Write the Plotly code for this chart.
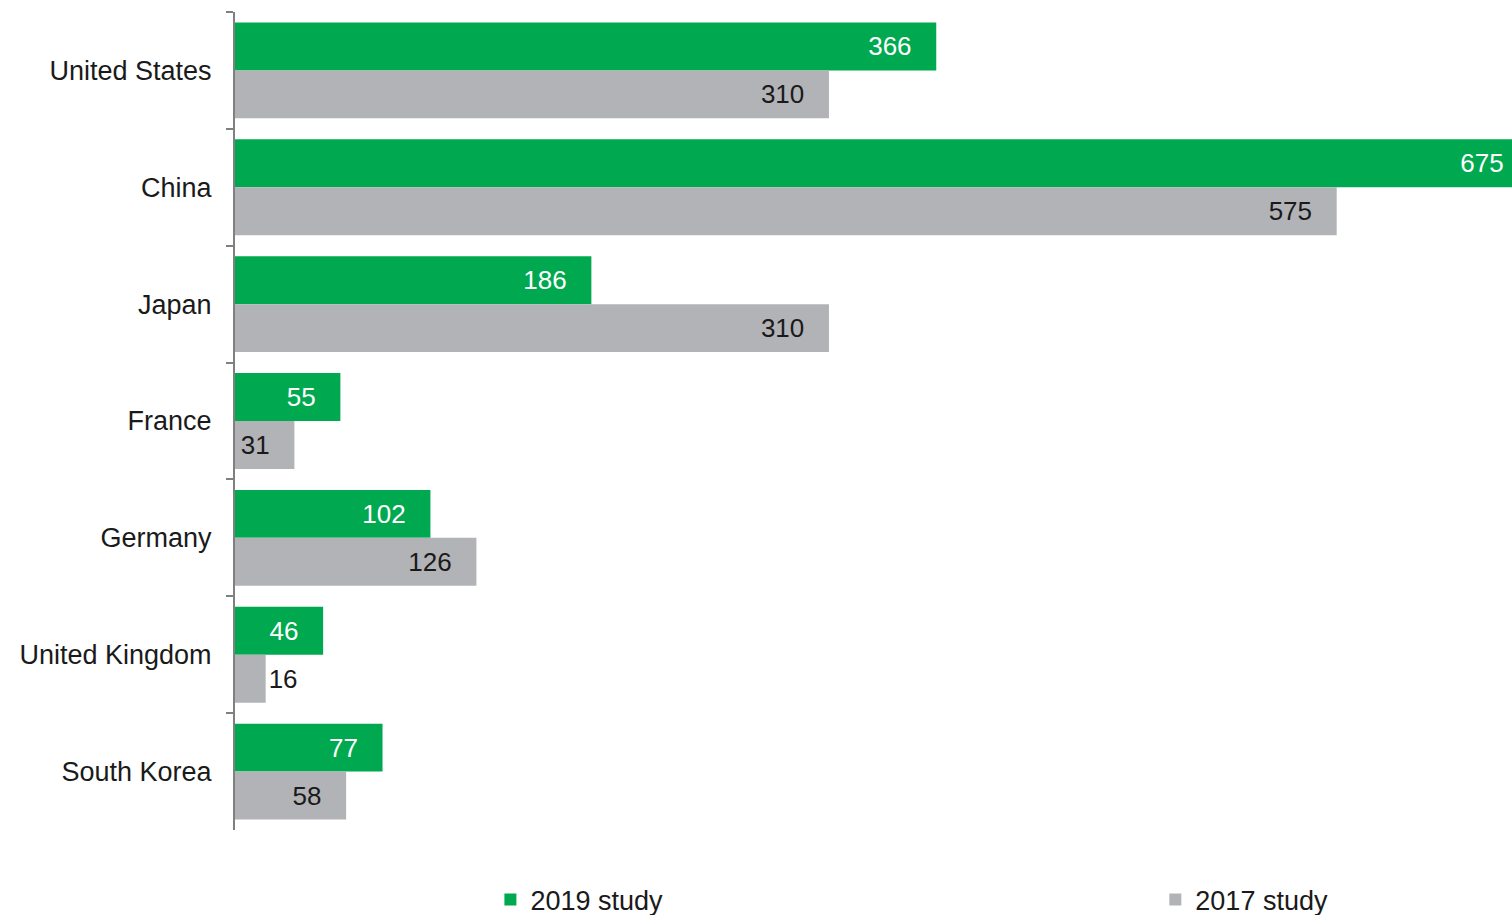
import plotly.graph_objects as go

countries = ["United States", "China", "Japan", "France", "Germany", "United Kingdom", "South Korea"]
study_2019 = [366, 675, 186, 55, 102, 46, 77]
study_2017 = [310, 575, 310, 31, 126, 16, 58]

GREEN = "#00A94F"
GREY = "#B2B3B6"
FONT = "Liberation Sans, Arial, sans-serif"
PAD = "\u00a0\u00a0\u00a0"


def positions(values):
    return ["outside" if v < 20 else "inside" for v in values]


fig = go.Figure()
fig.add_trace(go.Bar(
    y=countries, x=study_2019, orientation="h", name="2019 study",
    marker=dict(color=GREEN, line=dict(width=0)),
    texttemplate="%{x}" + PAD, textposition=positions(study_2019), insidetextanchor="end",
    textangle=0,
    textfont=dict(color="white", size=26, family=FONT),
    outsidetextfont=dict(color="#1a1a1a", size=26, family=FONT),
    legend="legend",
))
fig.add_trace(go.Bar(
    y=countries, x=study_2017, orientation="h", name="2017 study",
    marker=dict(color=GREY, line=dict(width=0)),
    texttemplate="%{x}" + PAD, textposition=positions(study_2017), insidetextanchor="end",
    textangle=0,
    textfont=dict(color="#1a1a1a", size=26, family=FONT),
    outsidetextfont=dict(color="#1a1a1a", size=26, family=FONT),
    legend="legend2",
))

leg_common = dict(
    orientation="h", xanchor="left", yref="container", y=0.0164, yanchor="middle",
    font=dict(size=27, family=FONT, color="#1a1a1a"),
    bgcolor="rgba(0,0,0,0)", itemclick=False, itemdoubleclick=False,
)

fig.update_layout(
    width=1512, height=915,
    margin=dict(l=235, r=0, t=12, b=85, autoexpand=False),
    paper_bgcolor="white", plot_bgcolor="white",
    barmode="group", bargap=0.18, bargroupgap=0,
    font=dict(family=FONT, size=27, color="#1a1a1a"),
    uniformtext=dict(minsize=26, mode="show"),
    showlegend=True,
    legend=dict(x=0.2, **leg_common),
    legend2=dict(x=0.7207, **leg_common),
    xaxis=dict(range=[0, 666.5], showgrid=False, zeroline=False, showticklabels=False,
               showline=False, ticks=""),
    yaxis=dict(autorange="reversed", showline=True, linecolor="#808080", linewidth=2,
               ticks="outside", ticklen=7, tickcolor="#808080", tickwidth=2,
               tickson="boundaries", ticklabelstandoff=16,
               tickfont=dict(size=27, family=FONT, color="#1a1a1a"), showgrid=False),
)

fig.write_html("out.html")
